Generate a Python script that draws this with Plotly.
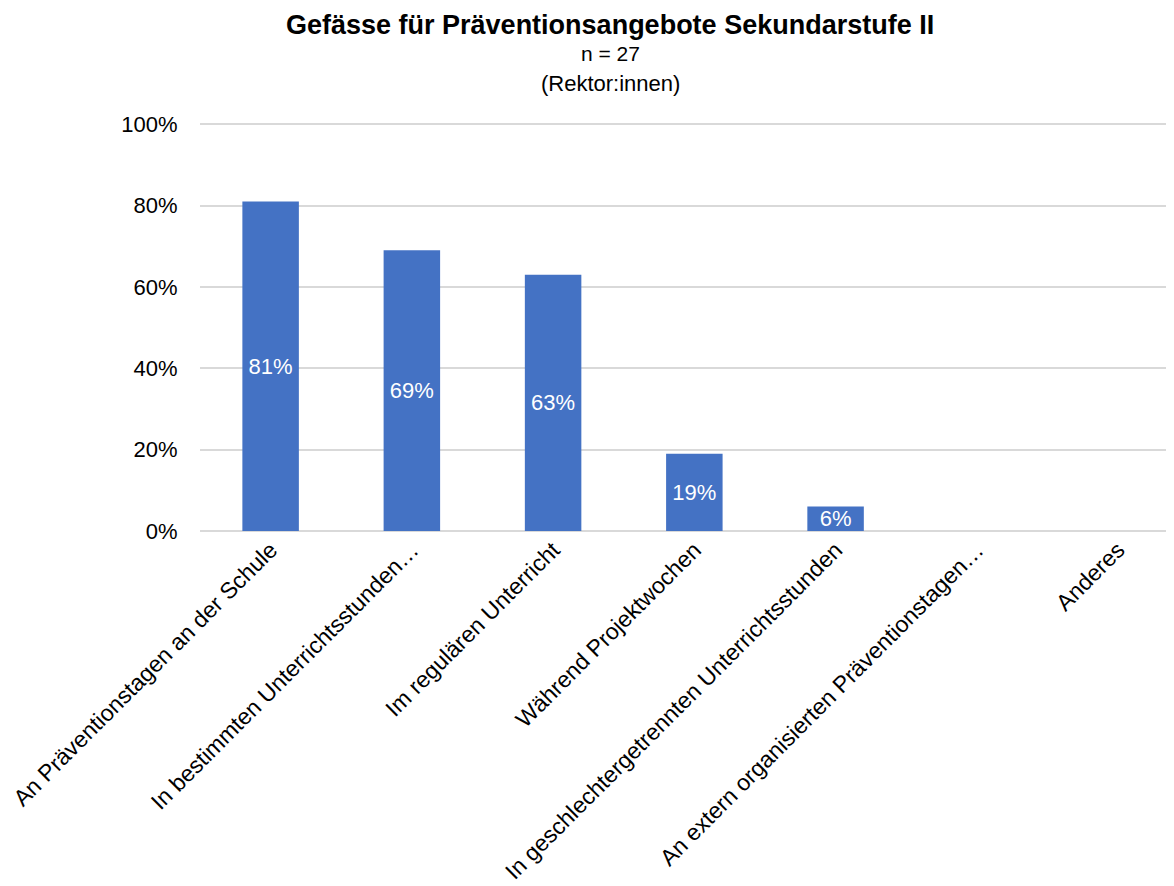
import plotly.graph_objects as go

categories = [
    "An Präventionstagen an der Schule",
    "In bestimmten Unterrichtsstunden…",
    "Im regulären Unterricht",
    "Während Projektwochen",
    "In geschlechtergetrennten Unterrichtsstunden",
    "An extern organisierten Präventionstagen…",
    "Anderes",
]
values = [81, 69, 63, 19, 6, 0, 0]
labels = [f"{v}%" if v > 0 else "" for v in values]
y_ticks = [0, 20, 40, 60, 80, 100]
y_tick_labels = [f"{t}%" for t in y_ticks]

FONT = "Liberation Sans, Arial, sans-serif"

fig = go.Figure(
    go.Bar(
        x=categories,
        y=values,
        text=labels,
        textposition="inside",
        insidetextanchor="middle",
        constraintext="none",
        textfont=dict(color="white", size=22, family=FONT),
        marker=dict(color="#4472C4", line=dict(width=0)),
        width=0.4,
    )
)

# page body has an 8px default margin; margins compensate for it
fig.update_layout(
    width=1174,
    height=886,
    margin=dict(l=192, r=8, t=115, b=363, autoexpand=False),
    paper_bgcolor="white",
    plot_bgcolor="white",
    showlegend=False,
    font=dict(family=FONT, color="black"),
    annotations=[
        dict(text="<b>Gefässe für Präventionsangebote Sekundarstufe II</b>",
             xref="paper", yref="paper", x=0.421, y=1.2408,
             xanchor="center", yanchor="middle", showarrow=False,
             font=dict(size=27, family=FONT, color="black")),
        dict(text="n = 27",
             xref="paper", yref="paper", x=0.421, y=1.1695,
             xanchor="center", yanchor="middle", showarrow=False,
             font=dict(size=21, family=FONT, color="black")),
        dict(text="(Rektor:innen)",
             xref="paper", yref="paper", x=0.421, y=1.0958,
             xanchor="center", yanchor="middle", showarrow=False,
             font=dict(size=22, family=FONT, color="black")),
    ],
)

fig.update_xaxes(
    range=[-0.5, 6.396],
    tickangle=-45,
    tickfont=dict(size=23, family=FONT, color="black"),
    showgrid=False,
    showline=False,
    ticks="",
    automargin=False,
)
fig.update_yaxes(
    range=[0, 100.3],
    tickvals=y_ticks,
    ticktext=y_tick_labels,
    tickfont=dict(size=22, family=FONT, color="black"),
    showgrid=True,
    gridcolor="#d9d9d9",
    gridwidth=1.5,
    zeroline=True,
    zerolinecolor="#d9d9d9",
    zerolinewidth=1.5,
    ticks="outside",
    ticklen=17,
    tickcolor="white",
    automargin=False,
)

fig.write_html("out.html")
